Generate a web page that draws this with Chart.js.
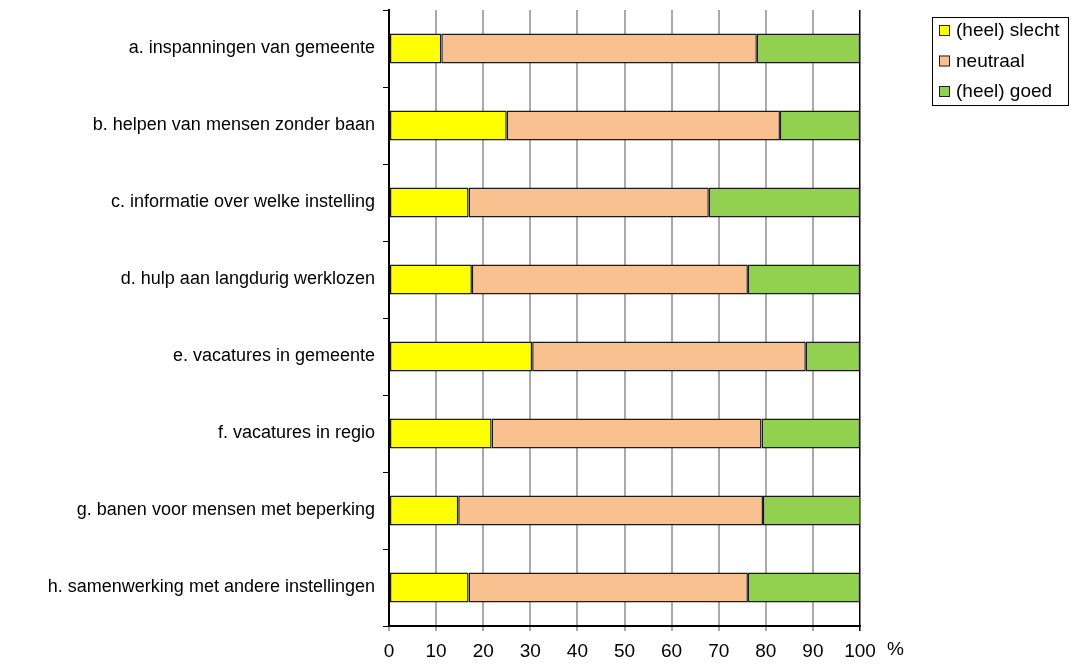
<!DOCTYPE html>
<html>
<head>
<meta charset="utf-8">
<script src="https://cdn.jsdelivr.net/npm/chart.js@4/dist/chart.umd.min.js"></script>
<style>
  html, body { margin:0; padding:0; background:#fff; }
  #wrap { width:1078px; height:664px; position:relative; }
</style>
</head>
<body>
<div id="wrap"><canvas id="chart"></canvas></div>
<script>
const categories = [
  'a. inspanningen van gemeente',
  'b. helpen van mensen zonder baan',
  'c. informatie over welke instelling',
  'd. hulp aan langdurig werklozen',
  'e. vacatures in gemeente',
  'f. vacatures in regio',
  'g. banen voor mensen met beperking',
  'h. samenwerking met andere instellingen'
];
const slecht   = [11.1, 25.0, 16.9, 17.6, 30.4, 21.8, 14.7, 16.9];
const neutraal = [67.0, 58.0, 51.0, 58.6, 58.1, 57.3, 64.7, 59.3];
const goed     = [21.9, 17.0, 32.1, 23.8, 11.5, 20.9, 20.8, 23.8];
const xTicks = [0, 10, 20, 30, 40, 50, 60, 70, 80, 90, 100];

const FONT = 'Liberation Sans, Arial, sans-serif';

// legend in a bordered box, top right
const boxLegend = {
  id: 'boxLegend',
  afterDraw(chart) {
    const ctx = chart.ctx;
    const x = 932, y = 17, w = 136, h = 88;
    ctx.save();
    ctx.fillStyle = '#fff';
    ctx.fillRect(x, y, w, h);
    ctx.strokeStyle = '#000';
    ctx.lineWidth = 1;
    ctx.strokeRect(x + 0.5, y + 0.5, w, h);
    ctx.font = '19px ' + FONT;
    ctx.textBaseline = 'middle';
    chart.data.datasets.forEach((ds, i) => {
      const cy = y + 13 + i * 30.5;
      ctx.fillStyle = ds.backgroundColor;
      ctx.fillRect(x + 7, cy - 5, 11, 11);
      ctx.strokeStyle = '#222';
      ctx.strokeRect(x + 7.5, cy - 4.5, 10, 10);
      ctx.fillStyle = '#000';
      ctx.fillText(ds.label, x + 24, cy + 1);
    });
    ctx.restore();
  }
};

// unit sign after the last x tick
const percentSign = {
  id: 'percentSign',
  afterDraw(chart) {
    const sx = chart.scales.x;
    const ctx = chart.ctx;
    ctx.save();
    ctx.font = '19px ' + FONT;
    ctx.fillStyle = '#000';
    ctx.textBaseline = 'middle';
    ctx.fillText('%', sx.getPixelForValue(100) + 27, 650);
    ctx.restore();
  }
};

new Chart(document.getElementById('chart'), {
  type: 'bar',
  data: {
    labels: categories,
    datasets: [
      { label: '(heel) slecht', data: slecht, backgroundColor: '#ffff00' },
      { label: 'neutraal', data: neutraal, backgroundColor: '#f9c090' },
      { label: '(heel) goed', data: goed, backgroundColor: '#92d050' }
    ]
  },
  options: {
    indexAxis: 'y',
    responsive: true,
    maintainAspectRatio: false,
    animation: false,
    datasets: {
      bar: {
        borderColor: '#1a1a1a',
        borderWidth: 1.5,
        borderSkipped: false,
        categoryPercentage: 1,
        barPercentage: 0.39
      }
    },
    layout: { padding: { top: 10, right: 218, left: 0, bottom: 0 } },
    plugins: {
      legend: { display: false },
      tooltip: { enabled: false }
    },
    scales: {
      x: {
        stacked: true,
        min: 0,
        max: 100,
        afterBuildTicks(axis) { axis.ticks = xTicks.map(v => ({ value: v })); },
        afterFit(axis) { axis.height = 38; },
        grid: {
          color: ctx => (ctx.tick && ctx.tick.value === 100) ? '#000' : '#aaaaaa',
          lineWidth: ctx => (ctx.tick && ctx.tick.value === 100) ? 1.5 : 2,
          tickLength: 5
        },
        border: { color: '#000', width: 2 },
        ticks: {
          color: '#000',
          font: { family: FONT, size: 19 },
          padding: 9,
          maxRotation: 0
        }
      },
      y: {
        stacked: true,
        afterFit(axis) {
          axis.width = 389;
          axis.paddingTop = 0;
          axis.paddingBottom = 0;
        },
        grid: {
          offset: true,
          drawOnChartArea: false,
          color: '#000',
          tickLength: 6
        },
        border: { color: '#000', width: 2 },
        ticks: {
          color: '#000',
          font: { family: FONT, size: 18 },
          padding: 8
        }
      }
    }
  },
  plugins: [boxLegend, percentSign]
});
</script>
</body>
</html>
